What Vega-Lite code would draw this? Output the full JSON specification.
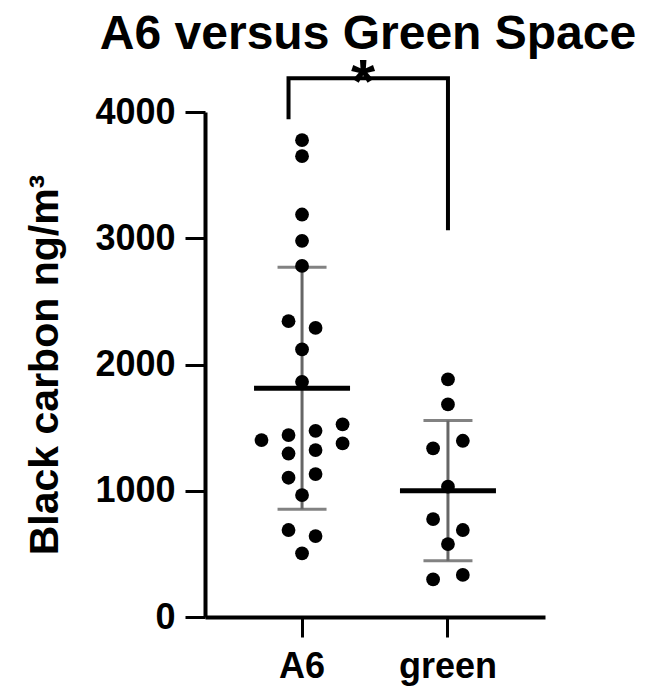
{
  "$schema": "https://vega.github.io/schema/vega-lite/v6.json",
  "autosize": {"type": "none"},
  "padding": {"left": 205, "top": 112, "right": 121, "bottom": 71},
  "width": 340,
  "height": 505,
  "background": "white",
  "title": {
    "text": "A6 versus Green Space",
    "font": "Liberation Sans",
    "fontSize": 48,
    "fontWeight": "bold",
    "color": "black",
    "anchor": "middle",
    "dx": -7,
    "dy": 27,
    "offset": 20
  },
  "config": {
    "view": {"stroke": null},
    "axis": {
      "grid": false,
      "domainColor": "black",
      "domainWidth": 4,
      "tickColor": "black",
      "tickWidth": 3,
      "tickSize": 20,
      "labelFont": "Liberation Sans",
      "labelFontSize": 36,
      "labelFontWeight": "bold",
      "labelColor": "black",
      "titleFont": "Liberation Sans",
      "titleColor": "black"
    }
  },
  "datasets": {
    "points": [
      {"group": "A6", "value": 3777, "slot": 0},
      {"group": "A6", "value": 3650, "slot": 0},
      {"group": "A6", "value": 3188, "slot": 0},
      {"group": "A6", "value": 2980, "slot": 0},
      {"group": "A6", "value": 2781, "slot": 0},
      {"group": "A6", "value": 2343, "slot": -1},
      {"group": "A6", "value": 2290, "slot": 1},
      {"group": "A6", "value": 2119, "slot": 0},
      {"group": "A6", "value": 1863, "slot": 0},
      {"group": "A6", "value": 1401, "slot": -3},
      {"group": "A6", "value": 1441, "slot": -1},
      {"group": "A6", "value": 1475, "slot": 1},
      {"group": "A6", "value": 1526, "slot": 3},
      {"group": "A6", "value": 1295, "slot": -1},
      {"group": "A6", "value": 1322, "slot": 1},
      {"group": "A6", "value": 1375, "slot": 3},
      {"group": "A6", "value": 1103, "slot": -1},
      {"group": "A6", "value": 1132, "slot": 1},
      {"group": "A6", "value": 966, "slot": 0},
      {"group": "A6", "value": 689, "slot": -1},
      {"group": "A6", "value": 641, "slot": 1},
      {"group": "A6", "value": 504, "slot": 0},
      {"group": "green", "value": 1882, "slot": 0},
      {"group": "green", "value": 1684, "slot": 0},
      {"group": "green", "value": 1336, "slot": -1.1},
      {"group": "green", "value": 1396, "slot": 1.1},
      {"group": "green", "value": 1032, "slot": 0},
      {"group": "green", "value": 776, "slot": -1.1},
      {"group": "green", "value": 689, "slot": 1.1},
      {"group": "green", "value": 578, "slot": 0},
      {"group": "green", "value": 298, "slot": -1.1},
      {"group": "green", "value": 333, "slot": 1.1}
    ],
    "bracket": [
      {"group": "A6", "value": 3959, "slot": -1, "o": 1},
      {"group": "A6", "value": 4268, "slot": -1, "o": 2},
      {"group": "green", "value": 4268, "slot": 0, "o": 3},
      {"group": "green", "value": 3080, "slot": 0, "o": 4}
    ],
    "stars": [
      {"group": "A6", "value": 4268, "label": "*"}
    ]
  },
  "encoding": {
    "x": {
      "field": "group",
      "type": "nominal",
      "scale": {"domain": ["A6", "green"], "paddingInner": 0, "paddingOuter": 0.165},
      "axis": {"title": null, "labelAngle": 0, "labelPadding": 12}
    },
    "y": {
      "field": "value",
      "type": "quantitative",
      "scale": {"domain": [0, 4000], "nice": false, "zero": true},
      "axis": {
        "values": [0, 1000, 2000, 3000, 4000],
        "format": "d",
        "labelPadding": 10,
        "title": "Black carbon ng/m³",
        "titleFontSize": 41,
        "titleFontWeight": "bold",
        "titlePadding": 28
      }
    }
  },
  "layer": [
    {
      "data": {"name": "points"},
      "mark": {
        "type": "errorbar",
        "extent": "stdev",
        "ticks": {"size": 49, "thickness": 3, "color": "#4d4d4d"},
        "rule": {"strokeWidth": 3, "color": "#666666"}
      }
    },
    {
      "data": {"name": "points"},
      "mark": {"type": "tick", "size": 96, "thickness": 5, "color": "black"},
      "encoding": {
        "y": {"aggregate": "mean", "field": "value", "type": "quantitative"}
      }
    },
    {
      "data": {"name": "points"},
      "mark": {"type": "point", "shape": "circle", "filled": true, "size": 190, "color": "black", "opacity": 1},
      "encoding": {
        "xOffset": {"field": "slot", "type": "quantitative", "scale": {"domain": [-5.4, 5.4]}}
      }
    },
    {
      "data": {"name": "bracket"},
      "mark": {"type": "line", "color": "black", "strokeWidth": 4, "strokeCap": "square"},
      "encoding": {
        "xOffset": {"field": "slot", "type": "quantitative"},
        "order": {"field": "o", "type": "quantitative"}
      }
    },
    {
      "data": {"name": "stars"},
      "mark": {"type": "text", "font": "Liberation Sans", "fontSize": 62, "fontWeight": "bold", "baseline": "alphabetic", "align": "center", "dx": 61, "dy": 24, "color": "black"},
      "encoding": {
        "text": {"field": "label", "type": "nominal"}
      }
    }
  ]
}
